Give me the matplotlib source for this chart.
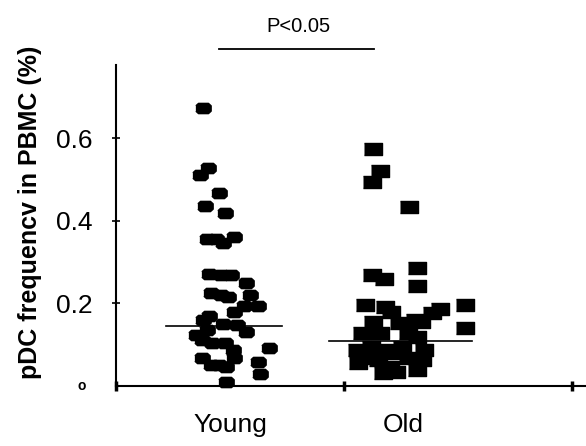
import matplotlib
matplotlib.use("Agg")
import matplotlib.pyplot as plt

young_x = [0.383, 0.368, 0.404, 0.452, 0.389, 0.477, 0.397, 0.437, 0.470, 0.517,
           0.408, 0.462, 0.506, 0.568, 0.415, 0.459, 0.491, 0.586, 0.517, 0.560,
           0.623, 0.383, 0.408, 0.353, 0.397, 0.470, 0.531, 0.568, 0.375, 0.422,
           0.477, 0.513, 0.375, 0.452, 0.484, 0.517, 0.415, 0.670, 0.623, 0.633,
           0.484]
young_y = [0.673, 0.511, 0.528, 0.467, 0.436, 0.419, 0.356, 0.356, 0.346, 0.361,
           0.271, 0.269, 0.269, 0.249, 0.225, 0.220, 0.215, 0.220, 0.179, 0.194,
           0.194, 0.160, 0.169, 0.123, 0.136, 0.150, 0.148, 0.131, 0.111, 0.104,
           0.104, 0.087, 0.068, 0.051, 0.046, 0.068, 0.051, 0.092, 0.058, 0.029,
           0.010]

old_x = [1.125, 1.158, 1.121, 1.285, 1.318, 1.318, 1.121, 1.176, 1.529, 1.529,
         1.420, 1.384, 1.092, 1.179, 1.125, 1.208, 1.242, 1.311, 1.336, 1.077,
         1.158, 1.282, 1.321, 1.056, 1.117, 1.187, 1.256, 1.350, 1.063, 1.201,
         1.227, 1.321, 1.343, 1.147, 1.282, 1.219, 1.172, 1.103]
old_y = [0.574, 0.521, 0.494, 0.433, 0.286, 0.242, 0.269, 0.259, 0.196, 0.140,
         0.186, 0.177, 0.196, 0.191, 0.155, 0.179, 0.152, 0.160, 0.155, 0.128,
         0.128, 0.128, 0.119, 0.087, 0.094, 0.087, 0.094, 0.087, 0.056, 0.046,
         0.034, 0.039, 0.063, 0.063, 0.068, 0.080, 0.031, 0.068]

young_median = 0.145
old_median = 0.110
group_labels = ["Young", "Old"]
group_label_x = [0.50, 1.26]
y_ticks = [0.2, 0.4, 0.6]
p_text = "P<0.05"

young_marker = [(-1.0, -0.35), (-0.65, -0.67), (0.65, -0.67), (1.0, -0.35),
                (1.0, 0.35), (0.65, 0.67), (-0.65, 0.67), (-1.0, 0.35)]
old_marker = [(-1.0, -0.62), (1.0, -0.62), (1.0, 0.62), (-1.0, 0.62)]

plt.rcParams['font.family'] = ['Liberation Sans', 'DejaVu Sans']

fig = plt.figure(figsize=(5.86, 4.46), dpi=100)
ax = fig.add_axes([116 / 586, 60 / 446, 470 / 586, 321 / 446])

ax.plot(young_x, young_y, ls='none', marker=young_marker, ms=11,
        color='black', mec='black', clip_on=False)
ax.plot(old_x, old_y, ls='none', marker=old_marker, ms=13.5,
        color='black', mec='black', clip_on=False)

# median lines
ax.plot([0.22, 0.73], [young_median, young_median], color='black', lw=1.2)
ax.plot([0.935, 1.56], [old_median, old_median], color='black', lw=1.2)

# significance bar
ax.plot([0.45, 1.13], [0.816, 0.816], color='black', lw=1.3, clip_on=False)
ax.text(0.80, 0.87, p_text, ha='center', va='center', fontsize=14.5)

ax.set_xlim(0, 470 / 228)
ax.set_ylim(0, 321 / 413)

for s in ['top', 'right']:
    ax.spines[s].set_visible(False)
ax.spines['left'].set_linewidth(1.5)
ax.spines['bottom'].set_linewidth(1.5)

ax.set_xticks([0, 1, 2])
ax.set_xticklabels([])
ax.tick_params(axis='x', direction='inout', length=7, width=2.5)

ax.set_yticks(y_ticks)
ax.set_yticklabels([f"{t:.1f}" for t in y_ticks], fontsize=19)
ax.tick_params(axis='y', direction='inout', length=6, width=1.2, pad=14)
ax.text(-0.13, 0.0, "o", ha='right', va='center', fontsize=10, fontweight='bold')

for lx, lab in zip(group_label_x, group_labels):
    ax.text(lx, -0.095, lab, ha='center', va='center', fontsize=19)

ax.set_ylabel("pDC frequencv in PBMC (%)", fontsize=18, fontweight='bold')
ax.yaxis.set_label_coords(-0.157, 0.54)

fig.savefig("out.png", dpi=100)
